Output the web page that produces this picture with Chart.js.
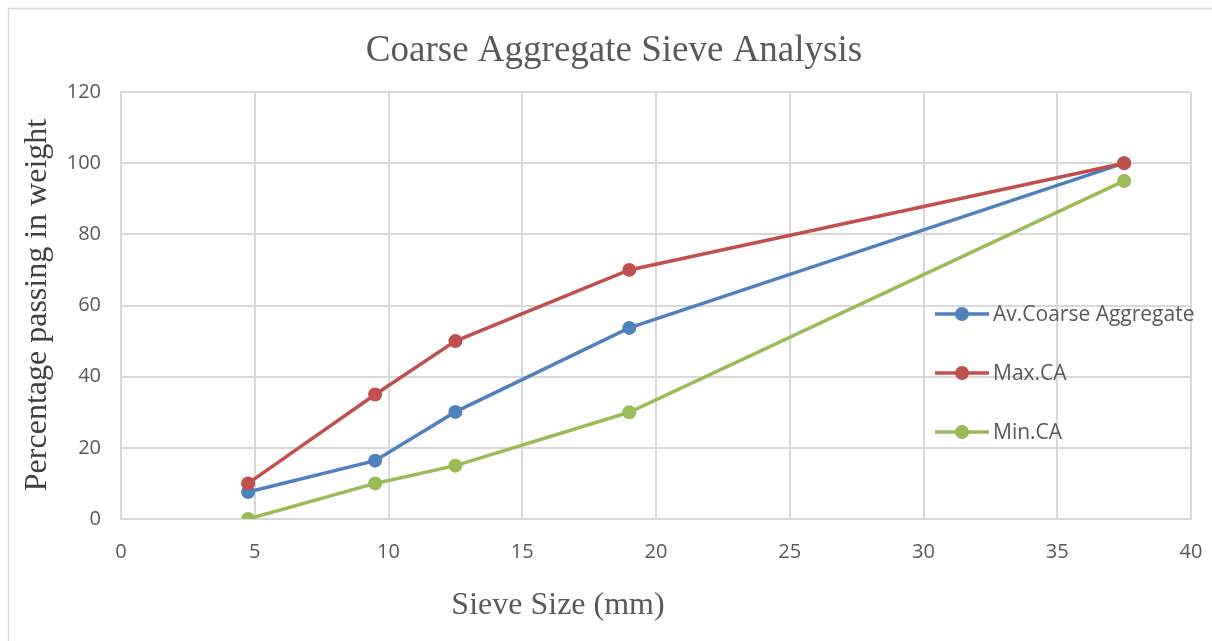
<!DOCTYPE html>
<html>
<head>
<meta charset="utf-8">
<script src="https://cdn.jsdelivr.net/npm/chart.js@4.4.1/dist/chart.umd.min.js"></script>
<style>
  html, body { margin: 0; padding: 0; background: #fff; }
  #wrap { width: 1212px; height: 641px; position: relative; }
</style>
</head>
<body>
<div id="wrap"><canvas id="sieveChart"></canvas></div>
<script>
// Sieve sizes (mm) and percentage passing
const sieveSizes = [4.75, 9.5, 12.5, 19, 37.5];
const avPassing = [7.6, 16.4, 30.1, 53.7, 100];
const maxPassing = [10, 35, 50, 70, 100];
const minPassing = [0, 10, 15, 30, 95];

const seriesNames = ['Av.Coarse Aggregate', 'Max.CA', 'Min.CA'];
const seriesColors = ['#4F81BD', '#C0504D', '#9BBB59'];

const chartTitle = 'Coarse Aggregate Sieve Analysis';
const xTitle = 'Sieve Size (mm)';
const yTitle = 'Percentage passing in weight';

function toPoints(values) {
    return sieveSizes.map((s, i) => ({ x: s, y: values[i] }));
}

// Plugin: outer border, titles and the legend inside the plot area
const decorPlugin = {
    id: 'decor',
    beforeDraw(chart) {
        const ctx = chart.ctx;
        ctx.save();
        ctx.strokeStyle = '#d9d9d9';
        ctx.lineWidth = 1.5;
        ctx.strokeRect(8.5, 8.5, 1210, 640);
        ctx.restore();
    },
    afterDraw(chart) {
        const ctx = chart.ctx;
        ctx.save();
        ctx.textAlign = 'center';
        ctx.textBaseline = 'middle';
        ctx.fillStyle = '#595959';
        ctx.font = '37px "Liberation Serif", "Times New Roman", serif';
        ctx.fillText(chartTitle, 614, 51);

        ctx.font = '32px "Liberation Serif", "Times New Roman", serif';
        ctx.fillText(xTitle, 558, 606);

        ctx.fillStyle = '#404040';
        ctx.translate(38, 305);
        ctx.rotate(-Math.PI / 2);
        ctx.fillText(yTitle, 0, 0);
        ctx.restore();

        // legend
        const rows = [314, 373, 432];
        ctx.save();
        ctx.font = '21px "Open Sans", sans-serif';
        ctx.textAlign = 'left';
        ctx.textBaseline = 'middle';
        seriesNames.forEach((name, i) => {
            const y = rows[i];
            ctx.strokeStyle = seriesColors[i];
            ctx.lineWidth = 3.5;
            ctx.beginPath();
            ctx.moveTo(935, y);
            ctx.lineTo(989, y);
            ctx.stroke();
            ctx.fillStyle = seriesColors[i];
            ctx.beginPath();
            ctx.arc(962, y, 7, 0, Math.PI * 2);
            ctx.fill();
            ctx.fillStyle = '#595959';
            ctx.fillText(name, 993, y + 1);
        });
        ctx.restore();
    }
};

const datasets = [avPassing, maxPassing, minPassing].map((vals, i) => ({
    label: seriesNames[i],
    data: toPoints(vals),
    borderColor: seriesColors[i],
    backgroundColor: seriesColors[i],
    borderWidth: 3.5,
    pointRadius: 7,
    pointHoverRadius: 7,
    pointBorderWidth: 0,
    showLine: true,
    fill: false,
    tension: 0,
    order: 3 - i
}));

const ctx = document.getElementById('sieveChart').getContext('2d');
new Chart(ctx, {
    type: 'scatter',
    data: { datasets: datasets },
    options: {
        responsive: true,
        maintainAspectRatio: false,
        animation: false,
        layout: { padding: { top: 92, left: 10, right: 21, bottom: 0 } },
        plugins: {
            legend: { display: false },
            tooltip: { enabled: false }
        },
        scales: {
            x: {
                type: 'linear',
                min: 0,
                max: 40,
                ticks: {
                    stepSize: 5,
                    padding: 21,
                    color: '#595959',
                    font: { family: '"Open Sans", sans-serif', size: 20 }
                },
                grid: { color: '#d9d9d9', lineWidth: 2, drawTicks: false },
                border: { color: '#d9d9d9', width: 2 },
                afterFit(scale) {
                    scale.height = 122;
                    scale.paddingLeft = 0;
                    scale.paddingRight = 0;
                }
            },
            y: {
                min: 0,
                max: 120,
                ticks: {
                    stepSize: 20,
                    padding: 20,
                    color: '#595959',
                    font: { family: '"Open Sans", sans-serif', size: 20 }
                },
                grid: { color: '#d9d9d9', lineWidth: 2, drawTicks: false },
                border: { color: '#d9d9d9', width: 2 },
                afterFit(scale) { scale.width = 111; }
            }
        }
    },
    plugins: [decorPlugin]
});
</script>
</body>
</html>
